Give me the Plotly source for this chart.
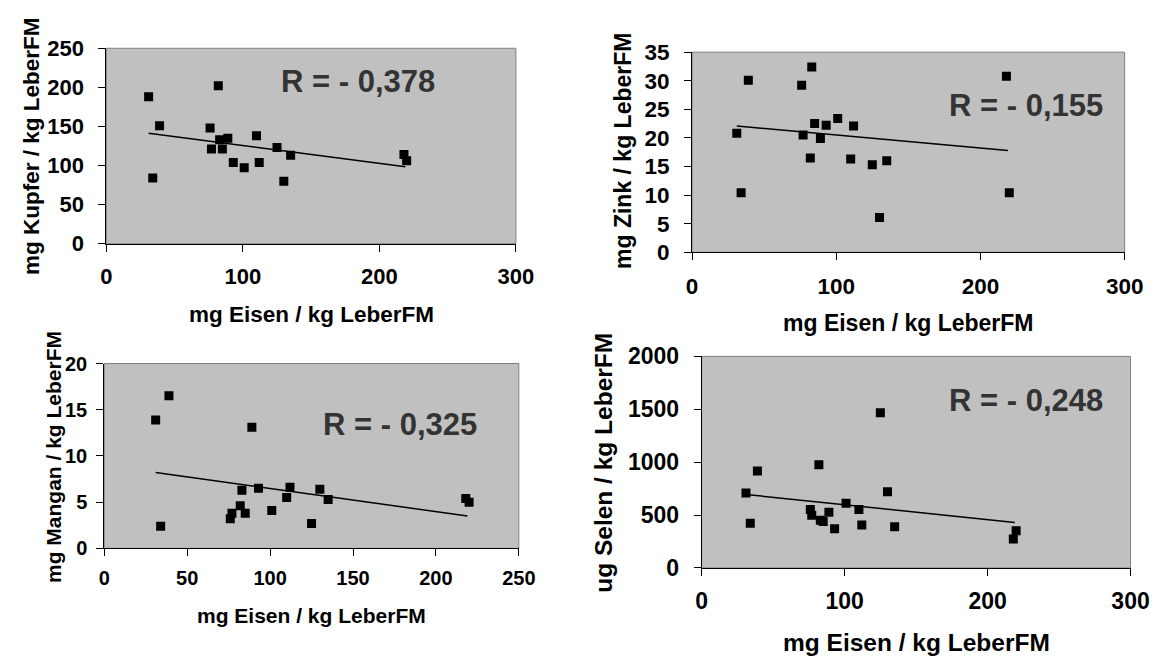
import plotly.graph_objects as go

W, H = 1174, 669

# ---- data ----
eisen = [31, 34, 39, 76, 77, 82, 83, 85, 89, 93, 101, 110, 112, 125, 130, 135, 218, 220]
kupfer = [188, 84, 151, 148, 121, 202, 133, 121, 135, 104, 97, 138, 104, 123, 80, 113, 114, 106]
zink = [20.8, 10.4, 30.1, 29.2, 20.5, 16.5, 32.4, 22.5, 19.9, 22.2, 23.4, 16.3, 22.1, 15.3, 6.1, 16.0, 30.8, 10.4]
mangan = [13.9, 2.4, 16.5, 3.2, 3.8, 4.6, 6.3, 3.8, 13.1, 6.5, 4.1, 5.5, 6.6, 2.7, 6.4, 5.3, 5.4, 5.0]
selen = [709, 421, 915, 551, 497, 976, 450, 439, 527, 369, 612, 551, 406, 1466, 721, 388, 273, 351]

trend_x = [31, 219]
trend_kupfer = [141.4, 98.4]
trend_zink = [22.1, 17.8]
trend_mangan = [8.2, 3.5]
trend_selen = [694, 430]

r_labels = ["R = - 0,378", "R = - 0,155", "R = - 0,325", "R = - 0,248"]
y_titles = ["mg Kupfer / kg LeberFM", "mg Zink / kg LeberFM",
            "mg Mangan / kg LeberFM", "ug Selen / kg LeberFM"]
x_title = "mg Eisen / kg LeberFM"

FONT = "Liberation Sans, Arial, sans-serif"

# panel geometry in pixels: (left, right, top, bottom)
panels = [
    dict(px=(102.5, 521), py=(36.7, 240), xr=[0, 300], xd=100, yr=[0, 250], yd=50,
         tick=22, title=22.5, ytx=26, yty=138, xty=314, rx=359.5, ry=71.5, xstand=6, ystand=10),
    dict(px=(701, 1143), py=(40.7, 249), xr=[0, 300], xd=100, yr=[0, 35], yd=5,
         tick=22.5, title=23, ytx=631, yty=144, xty=323, rx=1042.5, ry=96, xstand=7, ystand=10),
    dict(px=(100.4, 524), py=(364.7, 557), xr=[0, 250], xd=50, yr=[0, 20], yd=5,
         tick=20, title=21, ytx=48, yty=462, xty=627, rx=402.5, ry=428, xstand=5, ystand=5),
    dict(px=(710.8, 1149), py=(357.3, 577.3), xr=[0, 300], xd=100, yr=[0, 2000], yd=500,
         tick=23, title=24.5, ytx=611, yty=468, xty=655, rx=1042.5, ry=403, xstand=6, ystand=10),
]
ys = [kupfer, zink, mangan, selen]
trends = [trend_kupfer, trend_zink, trend_mangan, trend_selen]

fig = go.Figure()
layout = dict(width=W, height=H, margin=dict(l=0, r=0, t=0, b=0),
              paper_bgcolor="white", plot_bgcolor="#c0c0c0", showlegend=False)
annotations = []
shapes = []

for i, p in enumerate(panels):
    n = "" if i == 0 else str(i + 1)
    xa, ya = "x" + n, "y" + n
    fig.add_trace(go.Scatter(x=eisen, y=ys[i], mode="markers", xaxis=xa, yaxis=ya,
                             marker=dict(symbol="square", size=9, color="black",
                                         line=dict(width=0)),
                             hoverinfo="x+y"))
    fig.add_trace(go.Scatter(x=trend_x, y=trends[i], mode="lines", xaxis=xa, yaxis=ya,
                             line=dict(color="black", width=1.5), hoverinfo="skip"))
    xd = [p["px"][0] / W, p["px"][1] / W]
    yd = [1 - p["py"][1] / H, 1 - p["py"][0] / H]
    tf = dict(family=FONT, size=p["tick"], color="black", weight="bold")
    layout["xaxis" + n] = dict(domain=xd, range=p["xr"], dtick=p["xd"], tick0=0,
                               anchor=ya, showgrid=False, zeroline=False,
                               showline=True, linecolor="black", linewidth=1,
                               ticks="outside", ticklen=7, tickcolor="black",
                               tickfont=tf, ticklabelstandoff=p["xstand"],
                               fixedrange=True)
    layout["yaxis" + n] = dict(domain=yd, range=p["yr"], dtick=p["yd"], tick0=0,
                               anchor=xa, showgrid=False, zeroline=False,
                               showline=True, linecolor="black", linewidth=1,
                               ticks="outside", ticklen=7, tickcolor="black",
                               tickfont=tf, ticklabelstandoff=p["ystand"],
                               fixedrange=True)
    shapes.append(dict(type="rect", xref=xa + " domain", yref=ya + " domain",
                       x0=0, x1=1, y0=0, y1=1, line=dict(color="#808080", width=1),
                       layer="below"))
    tfont = dict(family=FONT, size=p["title"], color="black", weight="bold")
    annotations.append(dict(text=x_title, xref="paper", yref="paper",
                            x=(xd[0] + xd[1]) / 2, y=1 - p["xty"] / H,
                            xanchor="center", yanchor="middle", showarrow=False, font=tfont))
    annotations.append(dict(text=y_titles[i], xref="paper", yref="paper",
                            x=p["ytx"] / W, y=1 - p["yty"] / H, textangle=-90,
                            xanchor="center", yanchor="middle", showarrow=False, font=tfont))
    annotations.append(dict(text=r_labels[i], xref="paper", yref="paper",
                            x=p["rx"] / W, y=1 - p["ry"] / H,
                            xanchor="center", yanchor="middle", showarrow=False,
                            font=dict(family=FONT, size=31, color="#333333", weight="bold")))

layout["annotations"] = annotations
layout["shapes"] = shapes
fig.update_layout(**layout)
fig.write_html("out.html")
